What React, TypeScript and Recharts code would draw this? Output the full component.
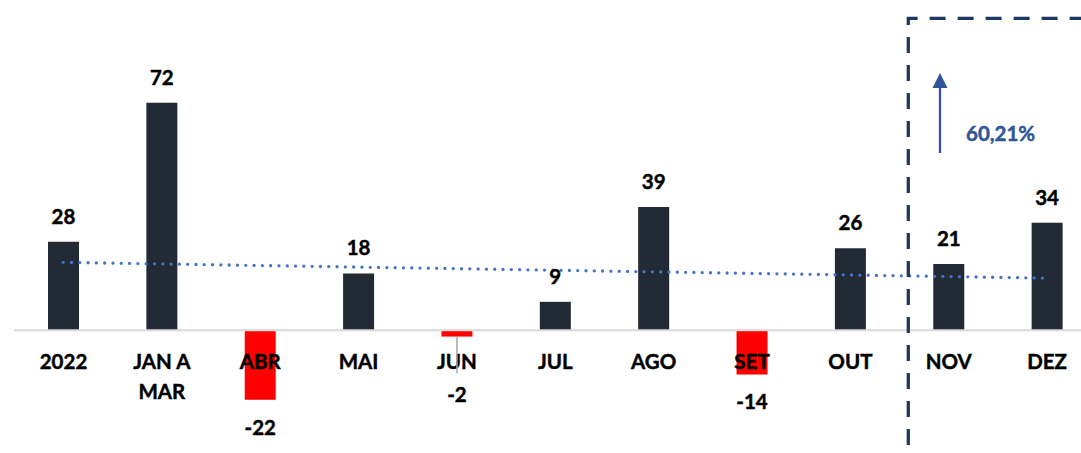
import { BarChart, Bar, XAxis, YAxis, Cell, LabelList, ReferenceLine } from 'recharts'

const categories = ['2022', 'JAN A MAR', 'ABR', 'MAI', 'JUN', 'JUL', 'AGO', 'SET', 'OUT', 'NOV', 'DEZ']
const values = [28, 72, -22, 18, -2, 9, 39, -14, 26, 21, 34]
// linear trendline at the first and last category
const trendStart = 21.5
const trendEnd = 16.5
const highlightText = '60,21%'

const data = categories.map((category, i) => ({ category, value: values[i] }))

const FONT = 'Lato, "Open Sans", sans-serif'
const BAR_COLOR = '#222a35'
const NEG_COLOR = '#ff0000'
const TREND_COLOR = '#4472c4'
const BOX_COLOR = '#1f3864'
const ARROW_COLOR = '#2f5597'

function wrapLabel(text: string, maxChars = 6) {
  const lines: string[] = []
  let cur = ''
  for (const w of text.split(' ')) {
    const next = cur ? cur + ' ' + w : w
    if (next.length > maxChars && cur) {
      lines.push(cur)
      cur = w
    } else cur = next
  }
  if (cur) lines.push(cur)
  return lines
}

// bar rect from label props (works whether height is signed or not)
function barBox(props: any) {
  const vb = props.viewBox ?? props
  const x = Number(vb.x ?? props.x)
  const y = Number(vb.y ?? props.y)
  const w = Number(vb.width ?? props.width)
  const h = Number(vb.height ?? props.height)
  return { cx: x + w / 2, y1: Math.min(y, y + h), y2: Math.max(y, y + h) }
}

// Lato bold is a bit lighter than the original's Calibri bold, so thicken it slightly
const textStyle = { fontFamily: FONT, fontWeight: 700, fontSize: 20.5 }
const thick = (color: string) => ({ fill: color, stroke: color, strokeWidth: 0.45 })

const renderValueLabel = (props: any) => {
  const v = values[props.index]
  const { cx, y1, y2 } = barBox(props)
  if (v >= 0) {
    return (
      <text x={cx} y={y1 - 18} textAnchor="middle" {...thick('#000')} style={textStyle}>
        {v}
      </text>
    )
  }
  const zero = y1
  const baseline = y2 + 35
  const minBaseline = zero + 72
  if (baseline < minBaseline) {
    return (
      <g>
        <line x1={cx} y1={y2} x2={cx} y2={zero + 43} stroke="#a6a6a6" strokeWidth={1.5} />
        <text x={cx} y={minBaseline} textAnchor="middle" {...thick('#000')} style={textStyle}>
          {v}
        </text>
      </g>
    )
  }
  return (
    <text x={cx} y={baseline} textAnchor="middle" {...thick('#000')} style={textStyle}>
      {v}
    </text>
  )
}

const renderCategoryLabel = (props: any) => {
  const v = values[props.index]
  const { cx, y1, y2 } = barBox(props)
  const zero = v >= 0 ? y2 : y1
  const lines = wrapLabel(String(props.value))
  return (
    <text x={cx} y={zero + 39} textAnchor="middle" {...thick('#000')} style={textStyle}>
      {lines.map((l, i) => (
        <tspan key={i} x={cx} dy={i === 0 ? 0 : 30}>
          {l}
        </tspan>
      ))}
    </text>
  )
}

export default function App() {
  return (
    <div
      style={{
        position: 'absolute',
        left: 0,
        top: 0,
        width: 1081,
        height: 453,
        overflow: 'hidden',
        background: '#fff',
      }}
    >
      <BarChart width={1100} height={453} data={data} margin={{ top: 46, right: 4, bottom: 28, left: 14 }}>
        <XAxis dataKey="category" type="category" hide />
        <YAxis type="number" domain={[-30, 90]} hide />
        <ReferenceLine y={0} stroke="#d9d9d9" strokeWidth={2} />
        <Bar dataKey="value" barSize={31} isAnimationActive={false}>
          {data.map((d, i) => (
            <Cell key={`cell-${i}`} fill={d.value < 0 ? NEG_COLOR : BAR_COLOR} />
          ))}
          <LabelList dataKey="category" content={renderCategoryLabel} />
          <LabelList dataKey="value" content={renderValueLabel} />
        </Bar>
        <ReferenceLine
          segment={[
            { x: categories[0], y: trendStart },
            { x: categories[categories.length - 1], y: trendEnd },
          ]}
          stroke={TREND_COLOR}
          strokeWidth={3.3}
          strokeDasharray="0 8.3"
          strokeLinecap="round"
        />
      </BarChart>

      {/* highlight box + arrow annotation */}
      <svg
        width={1081}
        height={453}
        style={{ position: 'absolute', left: 0, top: 0, pointerEvents: 'none' }}
      >
        <path
          d="M908.3 501 L908.3 18.3 L1200 18.3"
          fill="none"
          stroke={BOX_COLOR}
          strokeWidth={3.3}
          strokeDasharray="16 12"
        />
        <line x1={940} y1={153} x2={940} y2={86} stroke={ARROW_COLOR} strokeWidth={2.3} />
        <polygon points="932.5,88 947.5,88 940,73" fill={ARROW_COLOR} />
        <text x={966} y={141} {...thick(ARROW_COLOR)} style={textStyle}>
          {highlightText}
        </text>
      </svg>
    </div>
  )
}
